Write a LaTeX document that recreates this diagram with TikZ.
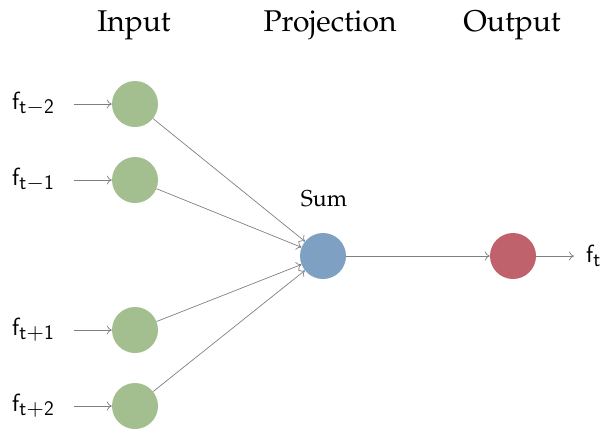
\documentclass[tikz,border=0pt]{standalone}
\usepackage[T1]{fontenc}
\usepackage{mathpazo}
\usetikzlibrary{arrows.meta}
\definecolor{ingreen}{RGB}{163,191,143}
\definecolor{sumblue}{RGB}{126,160,194}
\definecolor{outred}{RGB}{192,98,107}
\definecolor{wire}{RGB}{128,128,128}
\tikzset{
  neuron/.style={circle,minimum size=46pt,inner sep=0pt},
  title/.style={font=\fontsize{30}{32}\selectfont},
  sig/.style={font=\fontsize{28}{30}\selectfont,inner sep=0pt},
  link/.style={draw=wire,line width=0.7pt,-{To[length=5pt,width=9pt]}}
}
\begin{document}
\begin{tikzpicture}[x=1pt,y=-1pt]
\useasboundingbox (0,0) rectangle (609,429);
% column headings
\node[title] (hin)  at (134,25) {Input};
\node[title] (hpr)  at (330,25) {Projection};
\node[title] (hout) at (512,25) {Output};
% input layer
\node[neuron,fill=ingreen] (i1) at (135,104) {};
\node[neuron,fill=ingreen] (i2) at (135,180) {};
\node[neuron,fill=ingreen] (i3) at (135,330) {};
\node[neuron,fill=ingreen] (i4) at (135,406) {};
% projection and output
\node[neuron,fill=sumblue] (sum) at (323,256) {};
\node[font=\fontsize{23}{25}\selectfont] (sumlab) at (324,199) {Sum};
\node[neuron,fill=outred] (out) at (513,256) {};
% signal labels
\node[sig,anchor=west] (l1) at (12,104) {$\mathsf{f}_{\mathsf{t-2}}$};
\node[sig,anchor=west] (l2) at (12,180) {$\mathsf{f}_{\mathsf{t-1}}$};
\node[sig,anchor=west] (l3) at (12,330) {$\mathsf{f}_{\mathsf{t+1}}$};
\node[sig,anchor=west] (l4) at (12,406) {$\mathsf{f}_{\mathsf{t+2}}$};
\node[sig,anchor=west] (ft) at (586,256) {$\mathsf{f}_{\mathsf{t}}$};
% connections
\foreach \k in {1,...,4}{
  \draw[link] ([xshift=-38pt]i\k.west) -- (i\k.west);
  \draw[link] (i\k) -- (sum);
}
\draw[link] (sum) -- (out);
\draw[link] (out.east) -- ([xshift=-12pt]ft.west);
\end{tikzpicture}
\end{document}
